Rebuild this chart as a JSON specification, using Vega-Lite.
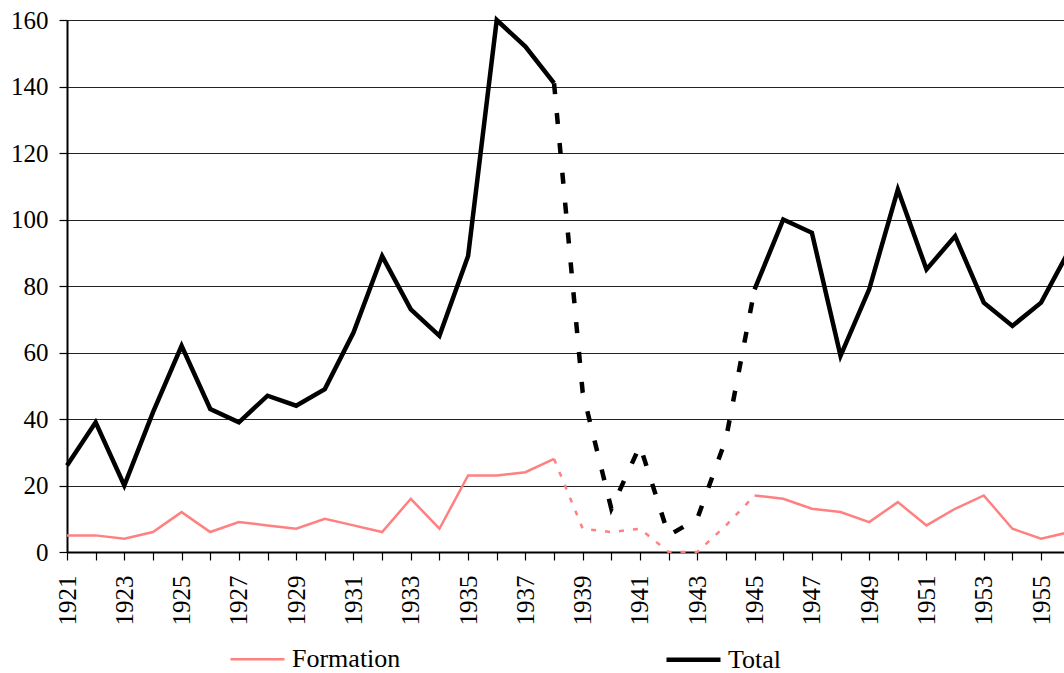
{
  "$schema": "https://vega.github.io/schema/vega-lite/v6.json",
  "width": 997,
  "height": 532,
  "autosize": {"type": "none"},
  "padding": {"left": 67, "top": 20, "right": 0, "bottom": 121},
  "background": "white",
  "config": {
    "view": {"stroke": null},
    "font": "Liberation Serif",
    "axis": {"labelFont": "Liberation Serif", "labelColor": "#000", "labelFontSize": 25, "titleFont": "Liberation Serif"}
  },
  "data": {"values": [
    {"year": 1921, "series": "Formation", "segment": "pre-war", "value": 5},
    {"year": 1922, "series": "Formation", "segment": "pre-war", "value": 5},
    {"year": 1923, "series": "Formation", "segment": "pre-war", "value": 4},
    {"year": 1924, "series": "Formation", "segment": "pre-war", "value": 6},
    {"year": 1925, "series": "Formation", "segment": "pre-war", "value": 12},
    {"year": 1926, "series": "Formation", "segment": "pre-war", "value": 6},
    {"year": 1927, "series": "Formation", "segment": "pre-war", "value": 9},
    {"year": 1928, "series": "Formation", "segment": "pre-war", "value": 8},
    {"year": 1929, "series": "Formation", "segment": "pre-war", "value": 7},
    {"year": 1930, "series": "Formation", "segment": "pre-war", "value": 10},
    {"year": 1931, "series": "Formation", "segment": "pre-war", "value": 8},
    {"year": 1932, "series": "Formation", "segment": "pre-war", "value": 6},
    {"year": 1933, "series": "Formation", "segment": "pre-war", "value": 16},
    {"year": 1934, "series": "Formation", "segment": "pre-war", "value": 7},
    {"year": 1935, "series": "Formation", "segment": "pre-war", "value": 23},
    {"year": 1936, "series": "Formation", "segment": "pre-war", "value": 23},
    {"year": 1937, "series": "Formation", "segment": "pre-war", "value": 24},
    {"year": 1938, "series": "Formation", "segment": "pre-war", "value": 28},
    {"year": 1938, "series": "Formation", "segment": "war", "value": 28},
    {"year": 1939, "series": "Formation", "segment": "war", "value": 7},
    {"year": 1940, "series": "Formation", "segment": "war", "value": 6},
    {"year": 1941, "series": "Formation", "segment": "war", "value": 7},
    {"year": 1942, "series": "Formation", "segment": "war", "value": 0},
    {"year": 1943, "series": "Formation", "segment": "war", "value": 0},
    {"year": 1944, "series": "Formation", "segment": "war", "value": 8},
    {"year": 1945, "series": "Formation", "segment": "war", "value": 17},
    {"year": 1945, "series": "Formation", "segment": "post-war", "value": 17},
    {"year": 1946, "series": "Formation", "segment": "post-war", "value": 16},
    {"year": 1947, "series": "Formation", "segment": "post-war", "value": 13},
    {"year": 1948, "series": "Formation", "segment": "post-war", "value": 12},
    {"year": 1949, "series": "Formation", "segment": "post-war", "value": 9},
    {"year": 1950, "series": "Formation", "segment": "post-war", "value": 15},
    {"year": 1951, "series": "Formation", "segment": "post-war", "value": 8},
    {"year": 1952, "series": "Formation", "segment": "post-war", "value": 13},
    {"year": 1953, "series": "Formation", "segment": "post-war", "value": 17},
    {"year": 1954, "series": "Formation", "segment": "post-war", "value": 7},
    {"year": 1955, "series": "Formation", "segment": "post-war", "value": 4},
    {"year": 1956, "series": "Formation", "segment": "post-war", "value": 6},
    {"year": 1921, "series": "Total", "segment": "pre-war", "value": 26},
    {"year": 1922, "series": "Total", "segment": "pre-war", "value": 39},
    {"year": 1923, "series": "Total", "segment": "pre-war", "value": 20},
    {"year": 1924, "series": "Total", "segment": "pre-war", "value": 42},
    {"year": 1925, "series": "Total", "segment": "pre-war", "value": 62},
    {"year": 1926, "series": "Total", "segment": "pre-war", "value": 43},
    {"year": 1927, "series": "Total", "segment": "pre-war", "value": 39},
    {"year": 1928, "series": "Total", "segment": "pre-war", "value": 47},
    {"year": 1929, "series": "Total", "segment": "pre-war", "value": 44},
    {"year": 1930, "series": "Total", "segment": "pre-war", "value": 49},
    {"year": 1931, "series": "Total", "segment": "pre-war", "value": 66},
    {"year": 1932, "series": "Total", "segment": "pre-war", "value": 89},
    {"year": 1933, "series": "Total", "segment": "pre-war", "value": 73},
    {"year": 1934, "series": "Total", "segment": "pre-war", "value": 65},
    {"year": 1935, "series": "Total", "segment": "pre-war", "value": 89},
    {"year": 1936, "series": "Total", "segment": "pre-war", "value": 160},
    {"year": 1937, "series": "Total", "segment": "pre-war", "value": 152},
    {"year": 1938, "series": "Total", "segment": "pre-war", "value": 141},
    {"year": 1938, "series": "Total", "segment": "war", "value": 141},
    {"year": 1939, "series": "Total", "segment": "war", "value": 48},
    {"year": 1940, "series": "Total", "segment": "war", "value": 13},
    {"year": 1941, "series": "Total", "segment": "war", "value": 32},
    {"year": 1942, "series": "Total", "segment": "war", "value": 5},
    {"year": 1943, "series": "Total", "segment": "war", "value": 10},
    {"year": 1944, "series": "Total", "segment": "war", "value": 34},
    {"year": 1945, "series": "Total", "segment": "war", "value": 79},
    {"year": 1945, "series": "Total", "segment": "post-war", "value": 79},
    {"year": 1946, "series": "Total", "segment": "post-war", "value": 100},
    {"year": 1947, "series": "Total", "segment": "post-war", "value": 96},
    {"year": 1948, "series": "Total", "segment": "post-war", "value": 59},
    {"year": 1949, "series": "Total", "segment": "post-war", "value": 79},
    {"year": 1950, "series": "Total", "segment": "post-war", "value": 109},
    {"year": 1951, "series": "Total", "segment": "post-war", "value": 85},
    {"year": 1952, "series": "Total", "segment": "post-war", "value": 95},
    {"year": 1953, "series": "Total", "segment": "post-war", "value": 75},
    {"year": 1954, "series": "Total", "segment": "post-war", "value": 68},
    {"year": 1955, "series": "Total", "segment": "post-war", "value": 75},
    {"year": 1956, "series": "Total", "segment": "post-war", "value": 91}
  ]},
  "encoding": {
    "x": {
      "field": "year", "type": "quantitative",
      "scale": {"domain": [1921, 1955.8], "nice": false, "zero": false},
      "axis": {
        "title": null,
        "values": [1921,1922,1923,1924,1925,1926,1927,1928,1929,1930,1931,1932,1933,1934,1935,1936,1937,1938,1939,1940,1941,1942,1943,1944,1945,1946,1947,1948,1949,1950,1951,1952,1953,1954,1955],
        "labelExpr": "datum.value % 2 === 1 ? '' + datum.value : ''",
        "labelAngle": -90,
        "labelOverlap": false,
        "labelPadding": 15,
        "labelFlush": false,
        "grid": false,
        "domainColor": "#000",
        "domainWidth": 2,
        "tickColor": "#000",
        "tickWidth": 1.2,
        "tickSize": 8
      }
    },
    "y": {
      "field": "value", "type": "quantitative",
      "scale": {"domain": [0, 160], "nice": false},
      "axis": {
        "title": null,
        "values": [0, 20, 40, 60, 80, 100, 120, 140, 160],
        "grid": true,
        "gridColor": "#222",
        "gridWidth": 1,
        "domainColor": "#000",
        "domainWidth": 2,
        "tickColor": "#000",
        "tickWidth": 1.2,
        "tickSize": 8,
        "labelPadding": 11
      }
    },
    "color": {
      "field": "series", "type": "nominal",
      "scale": {"domain": ["Formation", "Total"], "range": ["#ff8080", "#000000"]},
      "legend": {
        "title": null,
        "orient": "none",
        "legendX": 161,
        "legendY": 610,
        "direction": "horizontal",
        "columns": 2,
        "symbolType": "stroke",
        "symbolSize": 2916,
        "labelFont": "Liberation Serif",
        "labelFontSize": 26,
        "labelColor": "#000",
        "labelOffset": 5,
        "columnPadding": 256
      }
    },
    "strokeWidth": {
      "field": "series", "type": "nominal",
      "scale": {"domain": ["Formation", "Total"], "range": [2.5, 4.5]},
      "legend": {
        "title": null,
        "orient": "none",
        "legendX": 161,
        "legendY": 610,
        "direction": "horizontal",
        "columns": 2,
        "symbolType": "stroke",
        "symbolSize": 2916,
        "labelFont": "Liberation Serif",
        "labelFontSize": 26,
        "labelColor": "#000",
        "labelOffset": 5,
        "columnPadding": 256
      }
    },
    "detail": {"field": "segment", "type": "nominal"}
  },
  "layer": [
    {
      "transform": [{"filter": "datum.segment === 'pre-war'"}],
      "mark": {"type": "line", "strokeJoin": "miter", "strokeCap": "butt"}
    },
    {
      "transform": [{"filter": "datum.segment === 'post-war'"}],
      "mark": {"type": "line", "clip": true, "strokeJoin": "miter", "strokeCap": "butt"}
    },
    {
      "transform": [{"filter": "datum.segment === 'war' && datum.series === 'Formation'"}],
      "mark": {"type": "line", "strokeDash": [5, 9], "strokeCap": "butt"}
    },
    {
      "transform": [{"filter": "datum.segment === 'war' && datum.series === 'Total'"}],
      "mark": {"type": "line", "strokeDash": [11, 19], "strokeCap": "butt"}
    }
  ]
}
